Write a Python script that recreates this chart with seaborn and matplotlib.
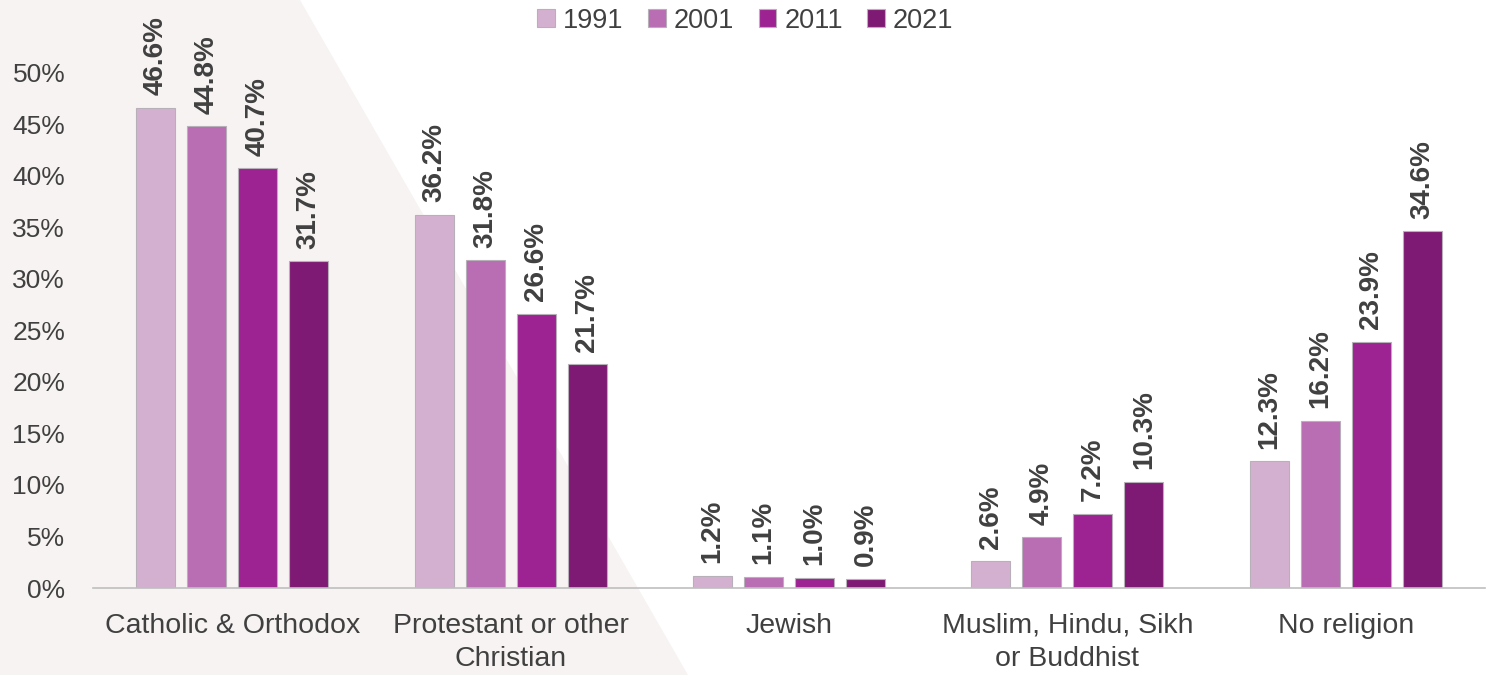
import matplotlib
matplotlib.use("Agg")
import matplotlib.pyplot as plt
from matplotlib.patches import Polygon
import seaborn as sns
import pandas as pd

categories = ["Catholic & Orthodox", "Protestant or other\nChristian", "Jewish",
              "Muslim, Hindu, Sikh\nor Buddhist", "No religion"]
years = ["1991", "2001", "2011", "2021"]
share_1991 = [46.6, 36.2, 1.2, 2.6, 12.3]
share_2001 = [44.8, 31.8, 1.1, 4.9, 16.2]
share_2011 = [40.7, 26.6, 1.0, 7.2, 23.9]
share_2021 = [31.7, 21.7, 0.9, 10.3, 34.6]
y_ticks = [0, 5, 10, 15, 20, 25, 30, 35, 40, 45, 50]

colors = ["#D4B0D0", "#B96DB2", "#9C2391", "#7E1A73"]
text_gray = "#404040"

rows = []
for year, vals in zip(years, [share_1991, share_2001, share_2011, share_2021]):
    for cat, v in zip(categories, vals):
        rows.append({"category": cat, "year": year, "share": v})
df = pd.DataFrame(rows)

sns.set_theme(style="white")
plt.rcParams["font.family"] = ["Liberation Sans", "DejaVu Sans"]

W, H = 1491, 675
fig = plt.figure(figsize=(W / 100, H / 100), dpi=100, facecolor="white")

# soft beige backdrop panel on the left, behind the plot
fig.patches.append(Polygon([(0, 1), (300 / W, 1), (688 / W, 0), (0, 0)],
                           closed=True, transform=fig.transFigure,
                           facecolor="#F7F3F2", edgecolor="none", zorder=0))

ax = fig.add_axes([93 / W, (H - 588) / H, (1485 - 93) / W, (588 - 21) / H])
ax.set_facecolor("none")
ax.set_zorder(2)

sns.barplot(data=df, x="category", y="share", hue="year", order=categories,
            hue_order=years, palette=colors, saturation=1, width=0.733,
            gap=0.235, edgecolor="#b8b0b8", linewidth=0.8, ax=ax, legend=True)

for cont in ax.containers:
    ax.bar_label(cont, labels=[f"{v:.1f}%" for v in cont.datavalues],
                 rotation=90, padding=9, fontsize=20, fontweight="bold",
                 color=text_gray)

ax.set_ylim(0, 55)
ax.set_xlim(-0.5, 4.5)
ax.set_yticks(y_ticks)
ax.set_yticklabels([f"{t}%" for t in y_ticks])
ax.set_xlabel("")
ax.set_ylabel("")
ax.tick_params(axis="y", length=0, pad=20, labelsize=19, labelcolor=text_gray)
ax.tick_params(axis="x", length=0, pad=18, labelsize=20.5, labelcolor=text_gray)
for lbl in ax.get_xticklabels():
    lbl.set_linespacing(1.35)
for side in ["top", "right", "left"]:
    ax.spines[side].set_visible(False)
ax.spines["bottom"].set_color("#BFBFBF")
ax.spines["bottom"].set_linewidth(1.2)
ax.grid(False)

handles, labels = ax.get_legend_handles_labels()
ax.get_legend().remove()
fig.legend(handles, labels, loc="upper center", bbox_to_anchor=(0.5, 1.025),
           ncol=4, frameon=False, fontsize=19.5, handlelength=0.65,
           handleheight=0.65, handletextpad=0.3, columnspacing=0.9,
           labelcolor=text_gray)

fig.savefig("out.png", dpi=100, facecolor="white")
